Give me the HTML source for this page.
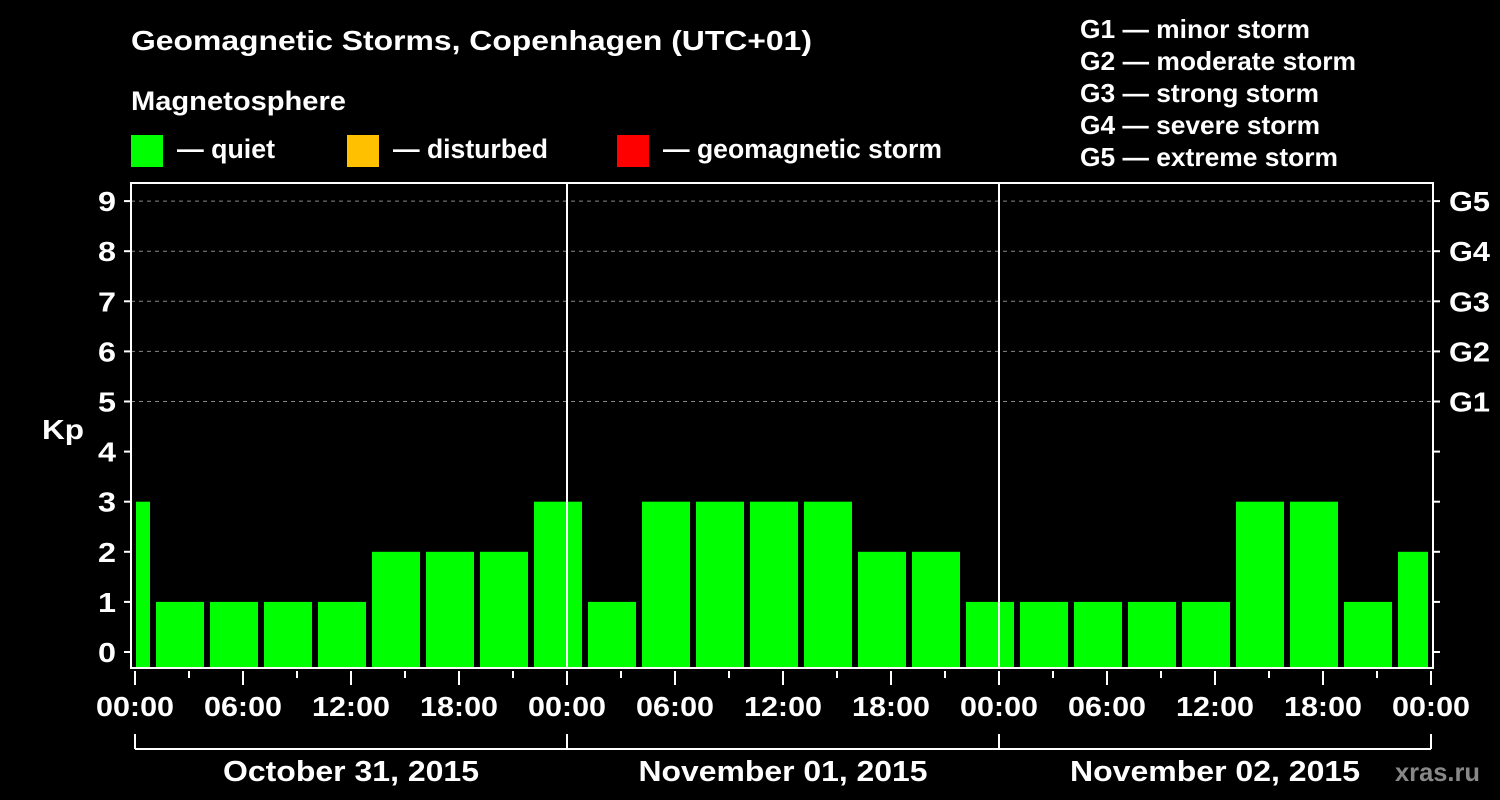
<!DOCTYPE html>
<html><head><meta charset="utf-8"><style>
body{margin:0;background:#000;}
svg{display:block;font-family:"Liberation Sans",Arial,sans-serif;font-weight:bold;}
</style></head><body>
<svg id="chart" width="1500" height="800" viewBox="0 0 1500 800">
<rect width="1500" height="800" fill="#000"/>
<text x="131" y="50" fill="#fff" font-size="28" textLength="681" lengthAdjust="spacingAndGlyphs">Geomagnetic Storms, Copenhagen (UTC+01)</text>
<text x="131" y="110" fill="#fff" font-size="27" textLength="215" lengthAdjust="spacingAndGlyphs">Magnetosphere</text>
<g>
<rect x="131" y="135" width="32" height="32" fill="#00ff00"/>
<text x="177" y="158" fill="#fff" font-size="27" textLength="98" lengthAdjust="spacingAndGlyphs">— quiet</text>
<rect x="347" y="135" width="32" height="32" fill="#ffc000"/>
<text x="393" y="158" fill="#fff" font-size="27" textLength="155" lengthAdjust="spacingAndGlyphs">— disturbed</text>
<rect x="617" y="135" width="32" height="32" fill="#ff0000"/>
<text x="663" y="158" fill="#fff" font-size="27" textLength="279" lengthAdjust="spacingAndGlyphs">— geomagnetic storm</text>
</g>
<g fill="#fff" font-size="26">
<text x="1080" y="38" textLength="230" lengthAdjust="spacingAndGlyphs">G1 — minor storm</text>
<text x="1080" y="70" textLength="276" lengthAdjust="spacingAndGlyphs">G2 — moderate storm</text>
<text x="1080" y="102" textLength="239" lengthAdjust="spacingAndGlyphs">G3 — strong storm</text>
<text x="1080" y="134" textLength="240" lengthAdjust="spacingAndGlyphs">G4 — severe storm</text>
<text x="1080" y="166" textLength="258" lengthAdjust="spacingAndGlyphs">G5 — extreme storm</text>
</g>
<text x="42" y="439" fill="#fff" font-size="28" textLength="42" lengthAdjust="spacingAndGlyphs">Kp</text>
<g id="grid"></g><g id="bars"></g><g id="axes"></g>
<text x="1395" y="781" fill="#888" font-size="26" textLength="85" lengthAdjust="spacingAndGlyphs">xras.ru</text>
</svg>
<script>
const days=["October 31, 2015","November 01, 2015","November 02, 2015"];
const barStartHours=[0,1,4,7,10,13,16,19,22,25,28,31,34,37,40,43,46,49,52,55,58,61,64,67,70];
const kpValues=[3,1,1,1,1,2,2,2,3,1,3,3,3,3,2,2,1,1,1,1,1,3,3,1,2];
const tickLabels=["00:00","06:00","12:00","18:00"];
const gLabels=["G1","G2","G3","G4","G5"];
const NS="http://www.w3.org/2000/svg";
const X0=135,PXH=18,TOTAL=72,Ybot=668,Ytop=183,L=131,R=1433;
const x=h=>X0+h*PXH, y=v=>652-50.1*v;
function mk(t,a,p){const e=document.createElementNS(NS,t);for(const k in a)e.setAttribute(k,a[k]);p.appendChild(e);return e;}
const grid=document.getElementById('grid'),bars=document.getElementById('bars'),axes=document.getElementById('axes');
for(let v=5;v<=9;v++){const l=mk('line',{x1:L,x2:R,y1:y(v),y2:y(v),stroke:'#888','stroke-dasharray':'4,4'},grid);

}
kpValues.forEach((v,i)=>{const s=barStartHours[i];const e=Math.min(s===0?1:s+3,TOTAL);
const x1=s===0?x(0)+1:x(s)+3,x2=x(e)-3;
const r=mk('rect',{x:x1,y:y(v),width:x2-x1,height:Ybot-y(v),fill:v>=5?'#ff0000':v>=4?'#ffc000':'#00ff00'},bars);

});
for(let d=1;d<days.length;d++)mk('line',{x1:x(d*24),x2:x(d*24),y1:Ytop,y2:Ybot,stroke:'#fff','stroke-width':2},axes);
const fr=mk('rect',{x:L,y:Ytop,width:R-L,height:Ybot-Ytop,fill:'none',stroke:'#fff','stroke-width':2},axes);


for(let v=0;v<=9;v++){mk('line',{x1:L-7,x2:L,y1:y(v),y2:y(v),stroke:'#fff','stroke-width':2},axes);
mk('line',{x1:R,x2:R+7,y1:y(v),y2:y(v),stroke:'#fff','stroke-width':2},axes);
const t=mk('text',{x:116,y:y(v)+10,fill:'#fff','font-size':28,'text-anchor':'end',textLength:18,lengthAdjust:'spacingAndGlyphs'},axes);t.textContent=v;

}
gLabels.forEach((g,i)=>{const t=mk('text',{x:1449,y:y(i+5)+10,fill:'#fff','font-size':28,textLength:41,lengthAdjust:'spacingAndGlyphs'},axes);t.textContent=g;

});
for(let h=0;h<=TOTAL;h+=3){const maj=h%6===0;mk('line',{x1:x(h),x2:x(h),y1:Ybot+3,y2:maj?Ybot+17:Ybot+10,stroke:'#fff','stroke-width':2},axes);
if(maj){const t=mk('text',{x:x(h)-39,y:716,fill:'#fff','font-size':28,textLength:78,lengthAdjust:'spacingAndGlyphs'},axes);t.textContent=tickLabels[(h/6)%4];

}}
mk('line',{x1:x(0),x2:x(TOTAL),y1:749,y2:749,stroke:'#fff','stroke-width':2},axes);
for(let d=0;d<=days.length;d++)mk('line',{x1:x(d*24),x2:x(d*24),y1:734,y2:749,stroke:'#fff','stroke-width':2},axes);
const dateW=[256,289,290];
days.forEach((s,d)=>{const w=dateW[d];const t=mk('text',{x:x(d*24+12)-w/2,y:781,fill:'#fff','font-size':29,textLength:w,lengthAdjust:'spacingAndGlyphs'},axes);t.textContent=s;

});
</script>
</body></html>
